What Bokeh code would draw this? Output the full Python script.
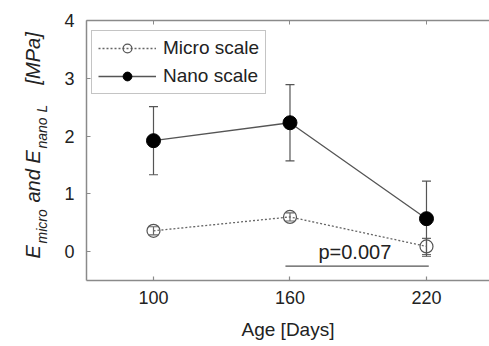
import math
from bokeh.plotting import figure
from bokeh.layouts import row
from bokeh.models import (ColumnDataSource, FixedTicker, Whisker, TeeHead, Label,
                          LinearAxis, Legend, LegendItem, Range1d)
from bokeh.core.properties import value
from bokeh.embed import file_html
from bokeh.resources import INLINE

# ---- data ----
ages = [100, 160, 220]
micro_mean = [0.36, 0.60, 0.09]
micro_err = [0.07, 0.07, 0.14]
nano_mean = [1.92, 2.23, 0.57]
nano_err = [0.59, 0.66, 0.65]
x_ticks = [100, 160, 220]
y_ticks = [0, 1, 2, 3, 4]
p_text = "p=0.007"
p_x = [158, 221]
p_y = -0.25

FONT = "Liberation Sans"
AX = "#8a8a8a"
TXT = "#222222"

W, H = 489, 346
LW = 50  # width of the label strip
FL, FT, FR, FB = 86, 20, 489, 280  # frame edges in picture pixels

p = figure(frame_width=FR - FL, frame_height=FB - FT, output_backend="svg", toolbar_location=None,
           x_range=Range1d(70.55, 247.7), y_range=Range1d(-0.5, 4.0),
           min_border_left=FL - LW, min_border_right=0, min_border_top=FT,
           min_border_bottom=H - FB)
p.background_fill_color = "white"
p.border_fill_color = "white"
p.outline_line_color = None
p.grid.visible = False

for ax in (p.xaxis[0], p.yaxis[0]):
    ax.axis_line_color = AX
    ax.axis_line_width = 1.5
    ax.major_tick_line_color = AX
    ax.major_tick_line_width = 1.2
    ax.major_tick_in = 4
    ax.major_tick_out = 0
    ax.minor_tick_line_color = None
    ax.major_label_text_font = FONT
    ax.major_label_text_font_size = "18px"
    ax.major_label_text_color = TXT

p.xaxis.major_label_standoff = 10
p.yaxis.major_label_standoff = 12
p.xaxis.ticker = FixedTicker(ticks=x_ticks)
p.yaxis.ticker = FixedTicker(ticks=y_ticks)
p.xaxis.axis_label = "Age [Days]"
p.xaxis.axis_label_text_font = FONT
p.xaxis.axis_label_text_font_size = "19px"
p.xaxis.axis_label_text_font_style = "normal"
p.xaxis.axis_label_text_color = TXT
p.xaxis.axis_label_standoff = 12

top = LinearAxis(ticker=FixedTicker(ticks=x_ticks),
                 major_label_overrides={t: "" for t in x_ticks},
                 axis_line_color=AX, axis_line_width=1.5, major_tick_line_color=AX,
                 major_tick_in=4, major_tick_out=0, minor_tick_line_color=None,
                 major_label_standoff=0)
p.add_layout(top, "above")

src_m = ColumnDataSource(dict(x=ages, y=micro_mean,
                              lo=[m - e for m, e in zip(micro_mean, micro_err)],
                              hi=[m + e for m, e in zip(micro_mean, micro_err)]))
src_n = ColumnDataSource(dict(x=ages, y=nano_mean,
                              lo=[m - e for m, e in zip(nano_mean, nano_err)],
                              hi=[m + e for m, e in zip(nano_mean, nano_err)]))

p.line(x=p_x, y=[p_y, p_y], line_color="#555555", line_width=1.3)
p.add_layout(Label(x=sum(p_x) / 2 - 1, y=p_y + 0.06, text=p_text, text_font=FONT,
                   text_font_size="20px", text_color=TXT, text_align="center",
                   text_baseline="bottom"))

for src, col in ((src_m, "#666666"), (src_n, "#555555")):
    w = Whisker(base="x", lower="lo", upper="hi", source=src, line_color=col, line_width=1.2,
                upper_head=TeeHead(size=9, line_color=col, line_width=1.2),
                lower_head=TeeHead(size=9, line_color=col, line_width=1.2))
    p.add_layout(w)

lm = p.line("x", "y", source=src_m, line_color="#666666", line_width=1.3, line_dash="2 2")
cm = p.scatter("x", "y", source=src_m, size=13, fill_color=None, line_color="#555555", line_width=1.2)
ln = p.line("x", "y", source=src_n, line_color="#555555", line_width=1.3)
cn = p.scatter("x", "y", source=src_n, size=14, fill_color="black", line_color="black")

leg = Legend(items=[LegendItem(label="Micro scale", renderers=[lm, cm]),
                    LegendItem(label="Nano scale", renderers=[ln, cn])],
             location=(5, 186), margin=0, padding=6, spacing=6,
             glyph_width=58, glyph_height=22, label_height=22, label_standoff=7,
             label_text_font=FONT, label_text_font_size="19px", label_text_color=TXT,
             border_line_color=AX, border_line_width=1.5, background_fill_alpha=1)
p.add_layout(leg)

# label strip: y-axis title with subscripts; the row aligns its frame with the
# main frame (picture rows FT..FB), so map that band to picture pixels directly
lab = figure(width=LW, height=H, output_backend="svg", toolbar_location=None,
             x_range=Range1d(0, LW), y_range=Range1d(H - FB, H - FT),
             min_border=0, x_axis_type=None, y_axis_type=None)
lab.outline_line_color = None
lab.grid.visible = False
lab.background_fill_color = "white"
lab.border_fill_color = "white"

pieces = [("E", 258, 32, "20px"), ("micro", 243, 41, "14px"), ("and", 202, 32, "20px"),
          ("E", 163, 32, "20px"), ("nano", 148, 41, "14px"), ("L", 112, 41, "14px"),
          ("[MPa]", 84, 32, "20px")]
for txt, yimg, ximg, fs in pieces:
    lab.text(x=[ximg], y=[H - yimg], text=[txt], angle=math.pi / 2,
             text_font=value(FONT), text_font_size=fs, text_font_style="italic",
             text_color=TXT, text_align="left", text_baseline="alphabetic")

layout = row(lab, p, spacing=0)
open("out.html", "w").write(file_html(layout, INLINE))
